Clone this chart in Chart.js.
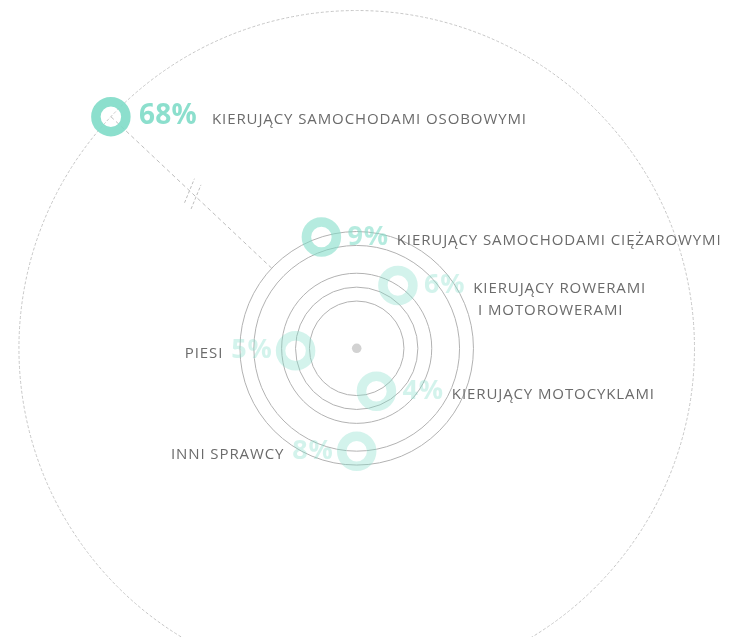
<!DOCTYPE html>
<html>
<head>
<meta charset="utf-8">
<script src="https://cdn.jsdelivr.net/npm/chart.js@4"></script>
<style>
  body { margin: 0; background: #fff; }
  #wrap { width: 731px; height: 637px; }
</style>
</head>
<body>
<div id="wrap"><canvas id="chart"></canvas></div>
<script>
// data
var categories = [
  ["KIERUJĄCY SAMOCHODAMI OSOBOWYMI"],
  ["KIERUJĄCY SAMOCHODAMI CIĘŻAROWYMI"],
  ["KIERUJĄCY ROWERAMI", " I MOTOROWERAMI"],
  ["PIESI"],
  ["KIERUJĄCY MOTOCYKLAMI"],
  ["INNI SPRAWCY"]
];
var shares = [68, 9, 6, 5, 4, 8];

// layout: where each ring sits on its circle (degrees, counter-clockwise from 3 o'clock)
var angles = [136.7, 107.6, 56.7, 182.3, -65.3, -90];
var sides = ["right", "right", "right", "left", "right", "left"];
var ringAlpha = [0.9, 0.58, 0.35, 0.35, 0.35, 0.35];

// radial axis: value at the centre, and a break for the big share
var ringOrigin = 0.6;
var axisBreak = { above: 20, gap: 43.1 };

function radialDistance(v) {
  return (v > axisBreak.above ? v - axisBreak.gap : v) - ringOrigin;
}

var points = shares.map(function (v, i) {
  var a = angles[i] * Math.PI / 180;
  var d = radialDistance(v);
  return { x: d * Math.cos(a), y: d * Math.sin(a) };
});

function teal(a) { return "rgba(128,220,200," + a + ")"; }

var rings = {
  id: "rings",
  beforeDatasetsDraw: function (chart) {
    var ctx = chart.ctx, x = chart.scales.x, y = chart.scales.y;
    var cx = x.getPixelForValue(0), cy = y.getPixelForValue(0);
    var rad = function (v) { return x.getPixelForValue(radialDistance(v)) - cx; };
    ctx.save();
    var outer = 0;
    shares.forEach(function (v) {
      ctx.beginPath();
      ctx.arc(cx, cy, rad(v), 0, Math.PI * 2);
      if (v > axisBreak.above) {
        ctx.setLineDash([3, 2]);
        ctx.strokeStyle = "#c6c6c6";
      } else {
        ctx.setLineDash([]);
        ctx.strokeStyle = "#b2b2b2";
        outer = Math.max(outer, rad(v));
      }
      ctx.lineWidth = 1;
      ctx.stroke();
    });

    // dashed spoke to the broken value with a break mark
    var meta = chart.getDatasetMeta(0);
    shares.forEach(function (v, i) {
      if (v <= axisBreak.above) return;
      var p = meta.data[i];
      var dx = p.x - cx, dy = p.y - cy, len = Math.sqrt(dx * dx + dy * dy);
      var ux = dx / len, uy = dy / len;
      ctx.setLineDash([4, 3]);
      ctx.strokeStyle = "#bdbdbd";
      ctx.beginPath();
      ctx.moveTo(cx + ux * outer, cy + uy * outer);
      ctx.lineTo(p.x, p.y);
      ctx.stroke();
      var mid = (outer + len) / 2 - 2;
      var t = 69 * Math.PI / 180;
      var mx = ux * Math.cos(t) - uy * Math.sin(t), my = ux * Math.sin(t) + uy * Math.cos(t);
      ctx.setLineDash([3, 2]);
      [-4.5, 4.5].forEach(function (o) {
        var bx = cx + ux * (mid + o), by = cy + uy * (mid + o);
        ctx.beginPath();
        ctx.moveTo(bx - mx * 13, by - my * 13);
        ctx.lineTo(bx + mx * 13, by + my * 13);
        ctx.stroke();
      });
    });

    ctx.setLineDash([]);
    ctx.fillStyle = "#d2d2d2";
    ctx.beginPath();
    ctx.arc(cx, cy, 4.8, 0, Math.PI * 2);
    ctx.fill();
    ctx.restore();
  },
  afterDatasetsDraw: function (chart) {
    var ctx = chart.ctx;
    var meta = chart.getDatasetMeta(0);
    ctx.save();
    ctx.textBaseline = "alphabetic";
    shares.forEach(function (v, i) {
      var p = meta.data[i];
      var big = v > axisBreak.above;
      var pct = v + "%";
      var base = p.y + 7.5;
      ctx.letterSpacing = big ? "0.3px" : "0.8px";
      ctx.font = "bold " + (big ? 28 : 27) + "px 'Open Sans'";
      var w = ctx.measureText(pct).width;
      var gap = big ? 15 : 8;
      var lines = categories[i];
      ctx.fillStyle = teal(ringAlpha[i]);
      var right = sides[i] === "right";
      var px = right ? p.x + (big ? 28 : 26) : p.x - 23;
      ctx.textAlign = right ? "left" : "right";
      ctx.fillText(pct, px, base);
      ctx.font = "15px 'Open Sans'";
      ctx.letterSpacing = "0.9px";
      ctx.fillStyle = "#6b6b6b";
      var lx = right ? px + w + gap : px - w - gap;
      lines.forEach(function (l, k) { ctx.fillText(l, lx, base + k * 21.7); });
    });
    ctx.restore();
  }
};

// 1 unit = 13.9 px, centre at (356.7, 348.3)
var k = 13.9;
new Chart("chart", {
  type: "scatter",
  data: {
    datasets: [{
      data: points,
      pointRadius: 15,
      pointHoverRadius: 15,
      borderWidth: 9.5,
      hoverBorderWidth: 9.5,
      backgroundColor: "rgba(0,0,0,0)",
      borderColor: ringAlpha.map(teal),
      clip: false
    }]
  },
  options: {
    responsive: true,
    maintainAspectRatio: false,
    animation: false,
    layout: { padding: 0, autoPadding: false },
    plugins: { legend: { display: false }, tooltip: { enabled: false } },
    events: [],
    scales: {
      x: { display: false, min: -356.7 / k, max: (731 - 356.7) / k },
      y: { display: false, min: -(637 - 348.3) / k, max: 348.3 / k }
    }
  },
  plugins: [rings]
});
</script>
</body>
</html>
